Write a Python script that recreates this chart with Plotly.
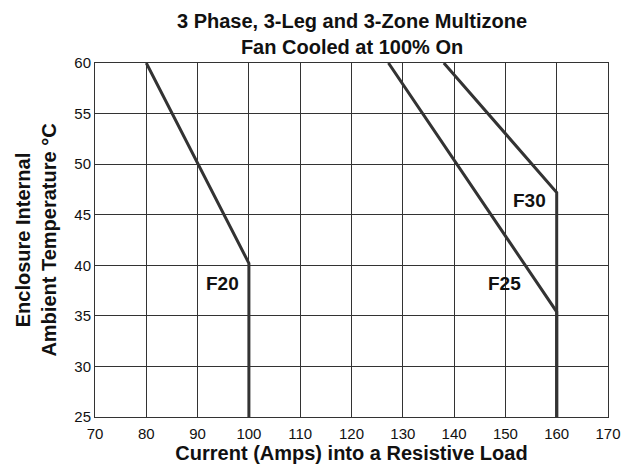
import plotly.graph_objects as go

# derating curves: current (A) vs enclosure internal ambient temperature (°C)
f20_amps = [80, 100, 100]
f20_temp = [60, 40.2, 25]

f25_amps = [127.2, 160, 160]
f25_temp = [60, 35.4, 25]

f30_amps = [138, 160, 160]
f30_temp = [60, 47.2, 25]

labels = ["F20", "F25", "F30"]
label_x = [94.8, 149.8, 154.7]
label_y = [38.2, 38.2, 46.4]

x_ticks = [70, 80, 90, 100, 110, 120, 130, 140, 150, 160, 170]
y_ticks = [25, 30, 35, 40, 45, 50, 55, 60]

FONT = "Liberation Sans, Arial, sans-serif"
LINE = "#333333"
INK = "#111111"

fig = go.Figure()
for xs, ys in [(f20_amps, f20_temp), (f25_amps, f25_temp), (f30_amps, f30_temp)]:
    fig.add_trace(go.Scatter(x=xs, y=ys, mode="lines",
                             line=dict(color=LINE, width=3),
                             showlegend=False, hoverinfo="skip"))

for t, x, y in zip(labels, label_x, label_y):
    fig.add_annotation(x=x, y=y, text="<b>%s</b>" % t, showarrow=False,
                       font=dict(family=FONT, size=19, color=INK))

# two-line title, placed as an annotation above the plot
fig.add_annotation(x=0.5, xref="paper", y=1, yref="paper",
                   xanchor="center", yanchor="bottom", yshift=3,
                   text="<b>3 Phase, 3-Leg and 3-Zone Multizone<br>Fan Cooled at 100% On</b>",
                   showarrow=False, font=dict(family=FONT, size=20, color=INK))

# page body adds an 8px offset on every side, so the figure is kept inside
# the visible area; automargin off so the plot area stays put
fig.update_layout(
    width=613, height=456,
    margin=dict(l=87, r=13, t=55, b=47),
    paper_bgcolor="white", plot_bgcolor="white",
    font=dict(family=FONT, color=INK),
)
fig.update_xaxes(range=[70, 170], tickvals=x_ticks, showgrid=True, automargin=False,
                 gridcolor="#333", gridwidth=1, showline=True, linecolor="#333",
                 linewidth=1, mirror=True, zeroline=False, ticks="",
                 ticklabelstandoff=3,
                 tickfont=dict(size=15, family=FONT, color=INK),
                 title=dict(text="<b>Current (Amps) into a Resistive Load</b>",
                            font=dict(size=20, family=FONT, color=INK), standoff=5))
fig.update_yaxes(range=[25, 60], tickvals=y_ticks, showgrid=True, automargin=False,
                 gridcolor="#333", gridwidth=1, showline=True, linecolor="#333",
                 linewidth=1, mirror=True, zeroline=False, ticks="",
                 tickfont=dict(size=15, family=FONT, color=INK),
                 title=dict(text="<b>Enclosure Internal<br>Ambient Temperature °C</b>",
                            font=dict(size=20, family=FONT, color=INK), standoff=12))

fig.write_html("out.html")
